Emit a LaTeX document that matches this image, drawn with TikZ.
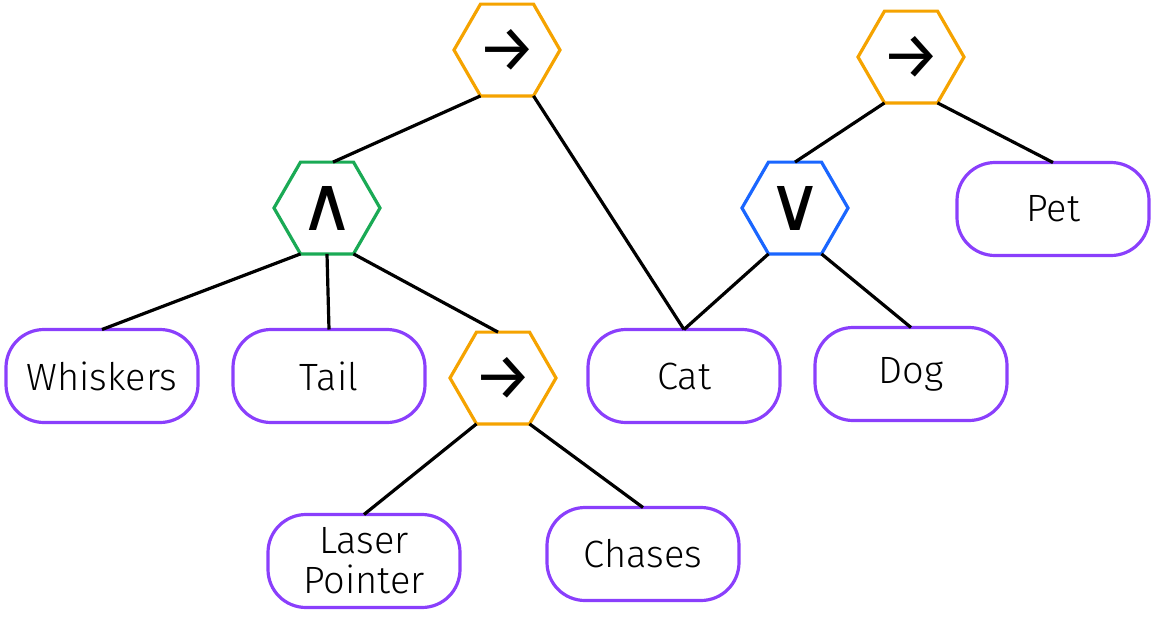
\documentclass[tikz,border=0pt]{standalone}
\usepackage{fontspec}
\setmainfont{Fira Sans Light}
\newfontfamily\arrowfont{Fira Sans}
\newfontfamily\symfont{DejaVu Sans}
\usetikzlibrary{shapes.geometric}
\definecolor{hexorange}{HTML}{F5A300}
\definecolor{hexgreen}{HTML}{1AAA55}
\definecolor{hexblue}{HTML}{1A66FF}
\definecolor{boxpurple}{HTML}{8A3FFC}
\tikzset{
  hexnode/.style={regular polygon, regular polygon sides=6, minimum size=106pt,
    draw, line width=3.2pt, inner sep=0pt, outer sep=0pt},
  arrowsym/.style={font=\arrowfont\fontsize{66}{66}\selectfont},
  logicsym/.style={font=\symfont\fontsize{76}{76}\selectfont},
  termbox/.style={draw=boxpurple, line width=3.2pt, rounded corners=38pt, minimum width=192pt,
    minimum height=93pt, inner sep=0pt, outer sep=0pt, align=center,
    font=\fontsize{38}{40}\selectfont},
  link/.style={line width=3.2pt, black}
}
\begin{document}
\begin{tikzpicture}[x=1pt,y=-1pt]
\useasboundingbox (0,0) rectangle (1152,630);
\node[hexnode, arrowsym, draw=hexorange] (imp1) at (507,50) {→};
\node[hexnode, logicsym, draw=hexgreen] (and) at (327,208) {∧};
\node[hexnode, arrowsym, draw=hexorange] (imp2) at (911,57) {→};
\node[hexnode, logicsym, draw=hexblue] (or) at (795,208) {∨};
\node[hexnode, arrowsym, draw=hexorange] (imp3) at (503,378) {→};
\node[termbox] (whiskers) at (102,376) {Whiskers};
\node[termbox] (tail) at (329,376) {Tail};
\node[termbox] (cat) at (684,376) {Cat};
\node[termbox] (dog) at (911,374) {Dog};
\node[termbox] (pet) at (1053,209) {Pet};
\node[termbox] (laser) at (364,561) {Laser\\Pointer};
\node[termbox] (chases) at (643,554) {Chases};
\draw[link] (imp1.240) -- ([xshift=6pt]and.north);
\draw[link] (imp1.300) -- (cat.north);
\draw[link] (and.240) -- (whiskers.north);
\draw[link] (and.south) -- (tail.north);
\draw[link] (and.300) -- ([xshift=-5pt]imp3.north);
\draw[link] (imp3.240) -- (laser.north);
\draw[link] (imp3.300) -- (chases.north);
\draw[link] (imp2.240) -- (or.north);
\draw[link] (imp2.300) -- (pet.north);
\draw[link] (or.240) -- (cat.north);
\draw[link] (or.300) -- (dog.north);
\end{tikzpicture}
\end{document}
